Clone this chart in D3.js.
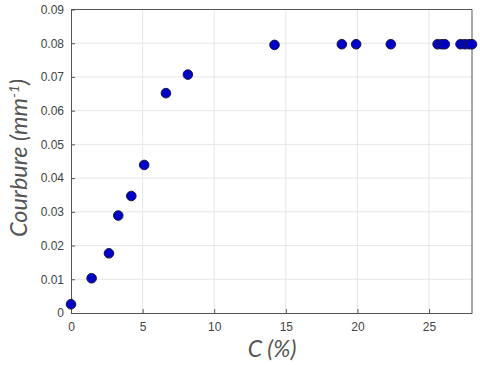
<!DOCTYPE html>
<html>
<head>
<meta charset="utf-8">
<script src="https://cdn.jsdelivr.net/npm/d3@7"></script>
<style>
  body { margin: 0; background: #fff; }
  svg text { font-family: "Liberation Sans", Arial, sans-serif; }
</style>
</head>
<body>
<svg id="chart" width="480" height="365"></svg>
<script>
// values
var concentration = [0, 1.44, 2.65, 3.3, 4.21, 5.11, 6.63, 8.16, 14.21, 18.91, 19.91, 22.33,
                     25.6, 25.9, 26.1, 27.2, 27.5, 27.8, 28.0];
var courbure = [0.0026, 0.0103, 0.0177, 0.0289, 0.0347, 0.0439, 0.0652, 0.0707, 0.0795, 0.0797, 0.0797, 0.0797,
                0.0797, 0.0797, 0.0797, 0.0797, 0.0797, 0.0797, 0.0797];
var xTicks = [0, 5, 10, 15, 20, 25];
var yTicks = [0, 0.01, 0.02, 0.03, 0.04, 0.05, 0.06, 0.07, 0.08, 0.09];

var LEFT = 71, RIGHT = 472, TOP = 9.5, BOTTOM = 313;

var svg = d3.select('#chart');

var x = d3.scaleLinear().domain([0, 28]).range([LEFT, RIGHT]);
var y = d3.scaleLinear().domain([0, 0.09]).range([BOTTOM, TOP]);

// grid
svg.append('g').selectAll('line').data(xTicks.slice(1))
    .enter().append('line')
    .attr('x1', function (d) { return x(d); }).attr('x2', function (d) { return x(d); })
    .attr('y1', TOP).attr('y2', BOTTOM)
    .attr('stroke', '#e6e6e6').attr('stroke-width', 1);
svg.append('g').selectAll('line').data(yTicks.slice(1, -1))
    .enter().append('line')
    .attr('x1', LEFT).attr('x2', RIGHT)
    .attr('y1', function (d) { return y(d); }).attr('y2', function (d) { return y(d); })
    .attr('stroke', '#e6e6e6').attr('stroke-width', 1);

// axes, ticks pointing inward like matlab
var xAxis = svg.append('g')
    .attr('transform', 'translate(0,' + BOTTOM + ')')
    .call(d3.axisBottom(x).tickValues(xTicks).tickSizeInner(-4).tickSizeOuter(0).tickPadding(9));
var yAxis = svg.append('g')
    .attr('transform', 'translate(' + LEFT + ',0)')
    .call(d3.axisLeft(y).tickValues(yTicks).tickSizeInner(-4).tickSizeOuter(0).tickPadding(7)
        .tickFormat(function (d) { return d === 0 ? '0' : d3.format('.2f')(d); }));

[xAxis, yAxis].forEach(function (a) {
    a.select('.domain').attr('stroke', '#555');
    a.selectAll('.tick line').attr('stroke', '#555');
    a.selectAll('.tick text').attr('fill', '#444').style('font-size', '12px');
});

// box top/right
svg.append('line').attr('x1', LEFT).attr('x2', RIGHT).attr('y1', TOP).attr('y2', TOP)
    .attr('stroke', '#555');
svg.append('line').attr('x1', RIGHT).attr('x2', RIGHT).attr('y1', TOP).attr('y2', BOTTOM)
    .attr('stroke', '#555');

// points
svg.append('g').selectAll('circle').data(concentration)
    .enter().append('circle')
    .attr('cx', function (d) { return x(d); })
    .attr('cy', function (d, i) { return y(courbure[i]); })
    .attr('r', 4.8)
    .attr('fill', '#0000c8')
    .attr('stroke', '#1a1a40')
    .attr('stroke-width', 1);

// labels
svg.append('text')
    .attr('x', 272).attr('y', 357)
    .attr('text-anchor', 'middle')
    .style('font-family', 'Lato, "Open Sans", sans-serif')
    .style('font-style', 'italic')
    .style('font-size', '23px')
    .attr('fill', '#555')
    .text('C (%)');

var ylab = svg.append('text')
    .attr('transform', 'translate(27,158) rotate(-90)')
    .attr('text-anchor', 'middle')
    .style('font-family', 'Lato, "Open Sans", sans-serif')
    .style('font-style', 'italic')
    .style('font-size', '23.5px')
    .attr('fill', '#555');
ylab.append('tspan').text('Courbure (mm');
ylab.append('tspan').attr('dy', -8).style('font-size', '14px').text('-1');
ylab.append('tspan').attr('dy', 8).text(')');
</script>
</body>
</html>
